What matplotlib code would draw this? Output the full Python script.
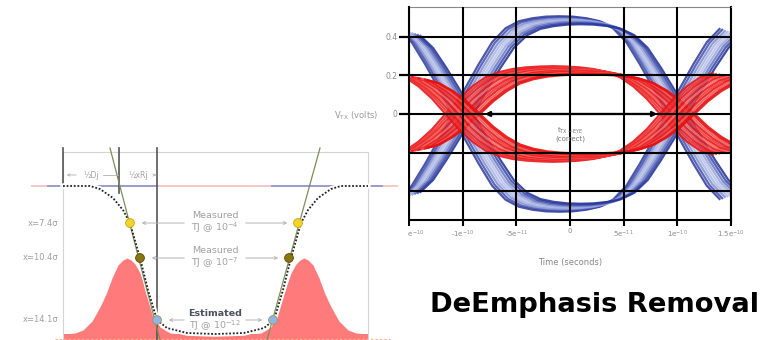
import matplotlib

matplotlib.use("Agg")

import matplotlib.pyplot as plt
import numpy as np

# ---- eye diagram, times in units of 1e-10 s ----
eye_t = [-1.5, -1.375, -1.25, -1.125, -1.0, -0.875, -0.75, -0.625, -0.5, -0.375, -0.25, -0.125, 0.0,
         0.125, 0.25, 0.375, 0.5, 0.625, 0.75, 0.875, 1.0, 1.125, 1.25, 1.375, 1.5]
blue_arc = [-0.43, -0.36, -0.25, -0.13, 0.0, 0.13, 0.25, 0.36, 0.43, 0.465, 0.48, 0.488, 0.49,
            0.488, 0.48, 0.465, 0.43, 0.36, 0.25, 0.13, 0.0, -0.13, -0.25, -0.36, -0.43]
red_arc = [-0.2, -0.18, -0.135, -0.075, 0.0, 0.075, 0.135, 0.18, 0.205, 0.22, 0.228, 0.232, 0.234,
           0.232, 0.228, 0.22, 0.205, 0.18, 0.135, 0.075, 0.0, -0.075, -0.135, -0.18, -0.2]
x_ticks = [-1.5e-10, -1e-10, -5e-11, 0, 5e-11, 1e-10, 1.5e-10]
x_tick_labels = ["-1.5e$^{-10}$", "-1e$^{-10}$", "-5e$^{-11}$", "0", "5e$^{-11}$", "1e$^{-10}$", "1.5e$^{-10}$"]
y_ticks = [-0.4, -0.2, 0, 0.2, 0.4]
y_tick_labels = ["-0.4", "-0.2", "0", "0.2", "0.4"]
eye_arrow = (-0.82e-10, 0.84e-10)

# ---- bathtub illustration (x, height above baseline) ----
tub_x = [63, 90, 100, 113, 123, 130, 140, 148, 157, 167, 187, 215,
         244, 264, 274, 283, 291, 301, 308, 318, 331, 341, 368]
tub_h = [152, 152, 149, 140, 128, 115, 80, 48, 18, 10, 5, 4,
         5, 10, 18, 48, 80, 115, 128, 140, 149, 152, 152]
gauss_l_x = [63, 75, 83, 92, 100, 106, 112, 118, 123, 127, 131, 135, 140, 147, 153, 160, 170, 180]
gauss_l_h = [4, 5, 8, 17, 31, 44, 60, 73, 78, 80, 78, 74, 65, 45, 28, 11, 5, 4]
gauss_r_x = [251, 261, 271, 278, 284, 291, 296, 300, 304, 308, 313, 319, 325, 331, 339, 348, 356, 368]
gauss_r_h = [4, 5, 11, 28, 45, 65, 74, 78, 80, 78, 73, 60, 44, 31, 17, 8, 5, 4]
dot_levels = [115, 80, 18]
dot_left_x = [130, 140, 157]
dot_right_x = [298, 289, 273]
dot_colors = ["#f2d22c", "#8a7414", "#93b5e2"]
dot_edges = ["#c9a800", "#5c4c00", "#8c9a60"]
sigma_labels = ["x=7.4σ", "x=10.4σ", "x=14.1σ"]

fig = plt.figure(figsize=(7.63, 3.40), dpi=100)

# ---------------- eye diagram ----------------
ax = fig.add_axes([409 / 763, 1 - 220 / 340, 322 / 763, 213 / 340])
t = np.array(eye_t) * 1e-10
blue = np.array(blue_arc)
red = np.array(red_arc)

blue_style = [(-0.1, 1.035, "#2c3a9c", 0.85), (-0.075, 1.025, "#3444a6", 0.8),
              (-0.05, 1.01, "#6575c6", 0.7), (-0.025, 1.0, "#98a5dc", 0.7),
              (0.0, 0.99, "#a8b3e2", 0.7), (0.025, 0.98, "#8290d3", 0.7),
              (0.05, 0.97, "#5062b8", 0.75), (0.075, 0.96, "#3444a6", 0.85),
              (0.1, 0.95, "#2a389a", 0.9)]
for sign in (1, -1):
    for dt, sc, col, al in blue_style:
        ax.plot(t + dt * 1e-10, sign * sc * blue, color=col, lw=1.6, alpha=al, solid_capstyle="butt")

red_style = [(-0.16, 1.06, "#e81418"), (-0.13, 1.04, "#f03030"), (-0.1, 1.025, "#ec1c1c"),
             (-0.07, 1.01, "#f25050"), (-0.04, 0.995, "#ea1a1a"), (-0.01, 0.98, "#f46a6a"),
             (0.02, 0.965, "#e81818"), (0.05, 0.95, "#f03a3a"), (0.08, 0.935, "#e51616"),
             (0.11, 0.92, "#f25656"), (0.14, 0.9, "#e81414"), (0.16, 0.88, "#e51212")]
for sign in (1, -1):
    for dt, sc, col in red_style:
        ax.plot(t + dt * 1e-10, sign * sc * red, color=col, lw=1.6, alpha=0.9, solid_capstyle="butt")

ax.set_xlim(-1.5e-10, 1.5e-10)
ax.set_ylim(-0.55, 0.555)
ax.set_xticks(x_ticks)
ax.set_xticklabels(x_tick_labels)
ax.set_yticks(y_ticks)
ax.set_yticklabels(y_tick_labels)
ax.set_axisbelow(False)
ax.grid(True, color="black", lw=1.5)
ax.tick_params(axis="y", length=7, width=1.6, colors="black", labelcolor="#8a8a8a", labelsize=5.5, pad=1.5)
ax.tick_params(axis="x", length=4, width=1.5, colors="black", labelcolor="#8a8a8a", labelsize=5, pad=2)
for side in ("left", "right", "bottom"):
    ax.spines[side].set_color("black")
    ax.spines[side].set_linewidth(1.5)
ax.spines["top"].set_color("#888888")
ax.spines["top"].set_linewidth(0.8)

ax.set_ylabel(r"V$_{\rm TX}$ (volts)", rotation=0, ha="right", va="center", color="#999999", fontsize=6)
ax.yaxis.set_label_coords(-0.095, 0.49)
ax.set_xlabel("Time (seconds)", color="#888888", fontsize=6, va="center")
ax.xaxis.set_label_coords(0.5, -(262 - 220) / 213)

ax.annotate("", xy=(eye_arrow[0], 0), xytext=(eye_arrow[1], 0),
            arrowprops=dict(arrowstyle="<|-|>", color="black", lw=1.6, mutation_scale=7), zorder=4)
ax.text(0, -0.104, "$\\mathregular{t_{TX-EYE}}$\n(correct)", ha="center", va="center",
        fontsize=5, color="#777777", linespacing=1.0, zorder=5)

# ---------------- bathtub illustration ----------------
axl = fig.add_axes([0, 0, 408 / 763, 200 / 340], zorder=5)
axl.set_xlim(0, 408)
axl.set_ylim(-2, 198)
axl.set_xticks([])
axl.set_yticks([])
for s in axl.spines.values():
    s.set_visible(False)
axl.set_facecolor("white")

pink = "#ff7b7b"
axl.fill_between([63, 368], -2, 4, color=pink, lw=0)
axl.fill_between(gauss_l_x, -2, gauss_l_h, color=pink, lw=0)
axl.fill_between(gauss_r_x, -2, gauss_r_h, color=pink, lw=0)
axl.plot([55, 390], [-1.2, -1.2], color="#ffb080", lw=0.8, ls=(0, (2, 2)))

axl.plot([63, 63, 368, 368], [-2, 186, 186, -2], color="#d4d4d4", lw=0.8)
axl.plot([32, 397], [152, 152], color="#f7c2c2", lw=1.3)
axl.plot([48, 157], [152, 152], color="#8f9ad0", lw=1.3)
axl.plot([272, 382], [152, 152], color="#8f9ad0", lw=1.3)
axl.plot([63, 63], [152, 190], color="#555555", lw=1.2)
axl.plot([119, 119], [145, 190], color="#555555", lw=1.2)
axl.plot([157, 157], [-2, 190], color="#555555", lw=1.2)

axl.plot(tub_x, tub_h, color="white", lw=4, solid_capstyle="round")
axl.plot([110, 160], [190, -2], color="#7f8c5c", lw=0.9)
axl.plot([267, 320], [-2, 190], color="#7f8c5c", lw=0.9)
axl.plot(tub_x, tub_h, color="#222222", lw=1.3, ls=(0, (1, 1)))

axl.scatter(dot_left_x + dot_right_x, dot_levels + dot_levels, s=40,
            c=dot_colors + dot_colors, edgecolors=dot_edges + dot_edges, linewidths=0.6, zorder=6)

grey = "#a0a0a0"
for lvl, lab in zip(dot_levels, sigma_labels):
    axl.text(58, lvl, lab, ha="right", va="center", fontsize=6, color=grey)

axl.text(91, 163, "½Dj", ha="center", va="center", fontsize=5.5, color=grey)
axl.text(138, 163, "½xRj", ha="center", va="center", fontsize=5.5, color=grey)
ap = dict(arrowstyle="->", color="#b0b0b0", lw=0.6, mutation_scale=4)
axl.annotate("", xy=(64, 163), xytext=(79, 163), arrowprops=ap)
axl.plot([103, 118], [163, 163], color="#b0b0b0", lw=0.6)
axl.annotate("", xy=(156, 163), xytext=(153, 163), arrowprops=ap)

axl.text(215, 115, "Measured\nTJ @ 10$^{-4}$", ha="center", va="center", fontsize=6.8,
         color=grey, linespacing=1.05)
axl.text(215, 80, "Measured\nTJ @ 10$^{-7}$", ha="center", va="center", fontsize=6.8,
         color=grey, linespacing=1.05)
axl.text(215, 25, "Estimated", ha="center", va="center", fontsize=6.8, color="#4c5160", fontweight="bold")
axl.text(215, 12, "TJ @ 10$^{-12}$", ha="center", va="center", fontsize=6.8, color=grey)

ap2 = dict(arrowstyle="->", color="#b4b4b4", lw=0.7, mutation_scale=5)
for lvl, xl, xr in zip(dot_levels, dot_left_x, dot_right_x):
    axl.annotate("", xy=(xl + 9, lvl), xytext=(187, lvl), arrowprops=ap2)
    axl.annotate("", xy=(xr - 8, lvl), xytext=(243, lvl), arrowprops=ap2)

fig.text(430 / 763, 1 - 312 / 340, "DeEmphasis Removal", ha="left", va="baseline",
         fontsize=19.7, fontweight="bold", color="black", family="DejaVu Sans")

fig.savefig("out.png", dpi=100)
